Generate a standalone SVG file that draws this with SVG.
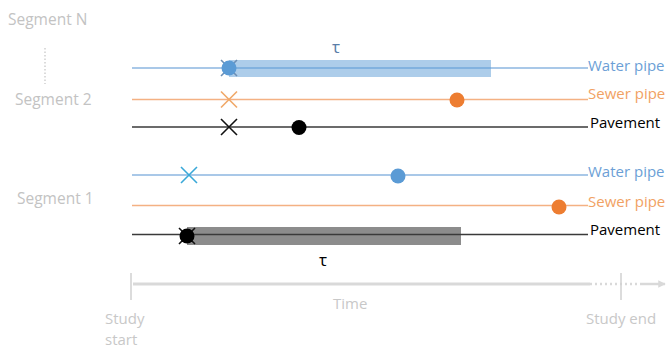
<svg xmlns="http://www.w3.org/2000/svg" width="670" height="349" viewBox="0 0 670 349">
<defs>
<style>
.seg{font-family:"Open Sans","Liberation Sans",sans-serif;font-size:15.5px;fill:#c3c3c3}
.lbl{font-family:"Open Sans","Liberation Sans",sans-serif;font-size:15px}
.ax{font-family:"Open Sans","Liberation Sans",sans-serif;font-size:15px;fill:#c8c8c8}
.tau{font-family:"Open Sans","DejaVu Sans",sans-serif;font-size:17px;text-anchor:middle}
.wl{stroke:#8db6e0;stroke-width:1.5;fill:none}
.sl{stroke:#f4b183;stroke-width:1.5;fill:none}
.pl{stroke:#3a3a3a;stroke-width:1.5;fill:none}
.xm{stroke-width:1.6;fill:none}
</style>
<marker id="arr" viewBox="0 0 10 10" refX="9" refY="5" markerWidth="3" markerHeight="3" orient="auto"><path d="M0,0 L10,5 L0,10 Z" fill="#d9d9d9"/></marker>
</defs>
<rect width="670" height="349" fill="#fff"/>

<g id="segment-labels">
<text class="seg" x="8" y="25">Segment N</text>
<line x1="45" y1="48" x2="45" y2="84" stroke="#cfcfcf" stroke-width="1.5" stroke-dasharray="1.5,2"/>
<text class="seg" x="15" y="105">Segment 2</text>
<text class="seg" x="17" y="204">Segment 1</text>
</g>

<g id="seg2-water">
<line class="wl" x1="132" y1="68" x2="588" y2="68"/>
<rect x="229" y="60" width="262" height="17" fill="#5b9bd5" fill-opacity="0.5"/>
<path class="xm" d="M221,60 L237,76 M237,60 L221,76" stroke="#6d8fb5"/>
<circle cx="229" cy="68" r="7.5" fill="#5b9bd5"/>
<text class="tau" x="336" y="53" fill="#5a7ea8">τ</text>
<text class="lbl" x="588" y="71" fill="#6c9fd6">Water pipe</text>
</g>

<g id="seg2-sewer">
<line class="sl" x1="132" y1="99.5" x2="588" y2="99.5"/>
<path class="xm" d="M221,91.5 L237,107.5 M237,91.5 L221,107.5" stroke="#f0a868"/>
<circle cx="457" cy="100" r="7.5" fill="#ed7d31"/>
<text class="lbl" x="588" y="99" fill="#f1a264">Sewer pipe</text>
</g>

<g id="seg2-pavement">
<line class="pl" x1="132" y1="127" x2="588" y2="127"/>
<path class="xm" d="M221,119 L237,135 M237,119 L221,135" stroke="#111"/>
<circle cx="299" cy="127.5" r="7.5" fill="#000"/>
<text class="lbl" x="590" y="128" fill="#000">Pavement</text>
</g>

<g id="seg1-water">
<line class="wl" x1="132" y1="175" x2="588" y2="175"/>
<path class="xm" d="M181,167 L197,183 M197,167 L181,183" stroke="#3aa8d8"/>
<circle cx="398" cy="176" r="7.5" fill="#5b9bd5"/>
<text class="lbl" x="588" y="177" fill="#6c9fd6">Water pipe</text>
</g>

<g id="seg1-sewer">
<line class="sl" x1="132" y1="205.5" x2="588" y2="205.5"/>
<circle cx="559" cy="207" r="7.5" fill="#ed7d31"/>
<text class="lbl" x="588" y="207" fill="#f1a264">Sewer pipe</text>
</g>

<g id="seg1-pavement">
<rect x="187" y="227" width="274" height="18" fill="#8c8c8c"/>
<line class="pl" x1="132" y1="234.5" x2="588" y2="234.5"/>
<path class="xm" d="M179,228 L195,244 M195,228 L179,244" stroke="#111"/>
<circle cx="187" cy="236" r="7.5" fill="#000"/>
<text class="tau" x="323" y="266" fill="#000">τ</text>
<text class="lbl" x="590" y="235" fill="#000">Pavement</text>
</g>

<g id="connectors">
<line x1="133" y1="284" x2="590" y2="284" stroke="#d9d9d9" stroke-width="3"/>
<line x1="590" y1="284" x2="642" y2="284" stroke="#d9d9d9" stroke-width="2.5" stroke-dasharray="2,3"/>
<line x1="642" y1="284" x2="665" y2="284" stroke="#d9d9d9" stroke-width="2.5" marker-end="url(#arr)"/>
<line x1="131" y1="273" x2="131" y2="300" stroke="#d0d0d0" stroke-width="1.5"/>
<line x1="621" y1="273" x2="621" y2="300" stroke="#d0d0d0" stroke-width="1.5"/>
</g>

<g id="axis-labels">
<text class="ax" x="333" y="309">Time</text>
<text class="ax" x="105" y="324">Study</text>
<text class="ax" x="105" y="345">start</text>
<text class="ax" x="586" y="324">Study end</text>
</g>
</svg>
